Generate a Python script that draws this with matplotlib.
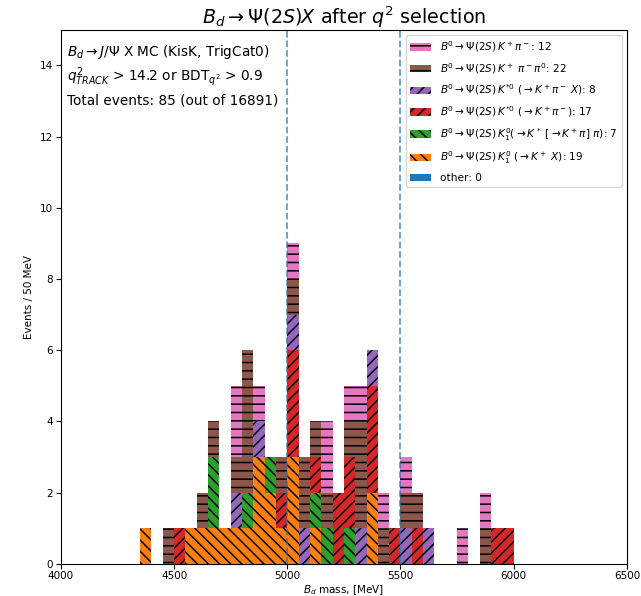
import matplotlib
matplotlib.use("Agg")
import matplotlib.pyplot as plt
import numpy as np

# 50 MeV binning of the B_d candidate mass
edges = np.arange(4350, 6001, 50)

# events per bin, one list per decay channel (bins from 4350 to 5950)
k1_kx =     [1,0,0,0,1,1,1,1,1,1,3,2,1,3,0,1,0,0,0,0,2,0,0,0,0,0,0,0,0,0,0,0,0]
k1_kstpi =  [0,0,0,0,0,0,2,0,0,1,0,1,0,0,0,1,1,0,1,0,0,0,0,0,0,0,0,0,0,0,0,0,0]
kst_kpi =   [0,0,0,1,0,0,0,0,0,0,0,0,1,3,0,1,0,2,2,0,3,0,1,0,1,0,0,0,0,0,0,1,1]
kst_kpix =  [0,0,0,0,0,0,0,0,1,0,1,0,0,1,1,0,0,0,0,1,1,0,0,1,0,1,0,0,0,0,0,0,0]
kpipi0 =    [0,0,1,0,0,1,1,0,1,4,0,0,1,1,2,1,1,0,1,3,0,1,0,1,1,0,0,0,0,0,1,0,0]
kpi =       [0,0,0,0,0,0,0,0,2,0,1,0,0,1,0,0,2,0,1,1,0,1,0,1,0,0,0,0,1,0,1,0,0]
other =     [0]*33

n_total = 85
n_all = 16891

# stacked from the bottom up
channels = [
    (other, 'C0', '', 'other'),
    (k1_kx, 'C1', '\\\\\\', r'$B^0 \to \Psi(2S)\,K_1^0\ (\to K^+\ X)$'),
    (k1_kstpi, 'C2', '\\\\\\', r'$B^0 \to \Psi(2S)\,K_1^0 (\to K^*\ [\to K^+\pi]\ \pi)$'),
    (kst_kpi, 'C3', '///', r'$B^0 \to \Psi(2S)\,K^{*0}\ (\to K^+\pi^-)$'),
    (kst_kpix, 'C4', '///', r'$B^0 \to \Psi(2S)\,K^{*0}\ (\to K^+\pi^-\ X)$'),
    (kpipi0, 'C5', '--', r'$B^0 \to \Psi(2S)\,K^+\ \pi^-\pi^0$'),
    (kpi, 'C6', '--', r'$B^0 \to \Psi(2S)\,K^+\pi^-$'),
]

plt.rcParams['hatch.color'] = 'black'
plt.rcParams['hatch.linewidth'] = 1.1

fig = plt.figure(figsize=(6.41, 5.96), dpi=100)
ax = fig.add_axes([0.095, 0.054, 0.883, 0.896])

bottom = np.zeros(len(edges) - 1)
handles = []
for counts, col, hatch, name in channels:
    counts = np.array(counts)
    bars = ax.bar(edges[:-1], counts, width=50, align='edge', bottom=bottom,
                  color=col, hatch=hatch, linewidth=0,
                  label='%s: %d' % (name, counts.sum()))
    handles.append(bars)
    bottom = bottom + counts

ax.axvline(5000, ls='--', color='C0', lw=1.3, alpha=0.7)
ax.axvline(5500, ls='--', color='C0', lw=1.3, alpha=0.7)

ax.set_xlim(4000, 6500)
ax.set_ylim(0, 15)
ax.set_xticks([4000, 4500, 5000, 5500, 6000, 6500])
ax.set_yticks([0, 2, 4, 6, 8, 10, 12, 14])
ax.tick_params(labelsize=7.5, length=3.5, pad=2)
ax.set_xlabel(r'$B_d$ mass, [MeV]', fontsize=7.5, labelpad=1.5)
ax.set_ylabel('Events / 50 MeV', fontsize=7.5, labelpad=4)
ax.set_title(r'$B_d \to \Psi(2S)X$ after $q^2$ selection', fontsize=13.8, pad=4)

ax.text(0.011, 0.959, r'$B_d \to J/\Psi$ X MC (KisK, TrigCat0)',
        transform=ax.transAxes, fontsize=9.8, va='center')
ax.text(0.011, 0.912, r'$q^2_{TRACK}$ > 14.2 or BDT$_{q^2}$ > 0.9',
        transform=ax.transAxes, fontsize=9.8, va='center')
ax.text(0.011, 0.867, 'Total events: %d (out of %d)' % (n_total, n_all),
        transform=ax.transAxes, fontsize=9.8, va='center')

leg = ax.legend(handles[::-1], [h.get_label() for h in handles[::-1]],
                loc='upper right', fontsize=7.6, labelspacing=0.65)

fig.savefig('out.png', dpi=100)
